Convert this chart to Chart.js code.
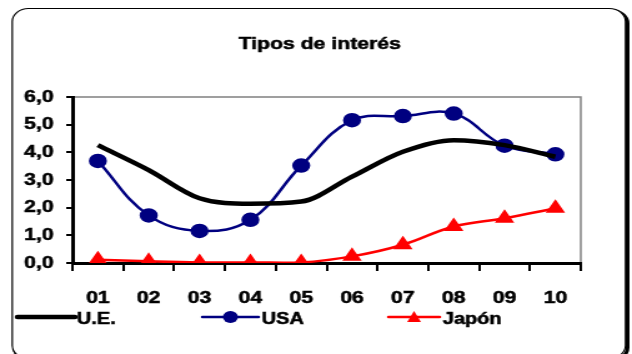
<!DOCTYPE html>
<html><head><meta charset="utf-8">
<script src="https://cdn.jsdelivr.net/npm/chart.js@4"></script>
<style>
html,body{margin:0;padding:0;background:#fff;overflow:hidden;}
#wrap{width:632px;height:354px;position:relative;overflow:hidden;}
#inner{width:506px;height:354px;transform:scale(1.249,1);transform-origin:0 0;}
</style>
</head><body><div id="wrap"><div id="inner"><canvas id="c" width="506" height="354"></canvas></div></div>
<script>
const categories = ["01","02","03","04","05","06","07","08","09","10"];
const ueValues = [4.26, 3.36, 2.34, 2.14, 2.22, 3.12, 4.02, 4.44, 4.26, 3.84];
const usaValues = [3.69, 1.72, 1.16, 1.56, 3.52, 5.16, 5.31, 5.40, 4.24, 3.93];
const japonValues = [0.12, 0.06, 0.02, 0.02, 0.02, 0.24, 0.66, 1.32, 1.62, 1.98];
const yTicks = [0,1,2,3,4,5,6];
const title = "Tipos de interés";
const seriesNames = ["U.E.", "USA", "Japón"];

const FONT = "'Liberation Sans', Arial, sans-serif";

function roundRect(ctx, x, y, w, h, r) {
  ctx.beginPath();
  ctx.moveTo(x + r, y);
  ctx.lineTo(x + w - r, y);
  ctx.arcTo(x + w, y, x + w, y + r, r);
  ctx.lineTo(x + w, y + h - r);
  ctx.arcTo(x + w, y + h, x + w - r, y + h, r);
  ctx.lineTo(x + r, y + h);
  ctx.arcTo(x, y + h, x, y + h - r, r);
  ctx.lineTo(x, y + r);
  ctx.arcTo(x, y, x + r, y, r);
  ctx.closePath();
}

function boldText(ctx, txt, x, y) {
  ctx.fillText(txt, x, y);
  ctx.strokeStyle = '#000';
  ctx.lineWidth = 0.5;
  ctx.strokeText(txt, x, y);
}

const decor = {
  id: 'decor',
  beforeDraw(chart) {
    const ctx = chart.ctx;
    ctx.save();
    ctx.fillStyle = '#fff';
    ctx.fillRect(0,0,chart.width,chart.height);
    ctx.strokeStyle = '#000';
    ctx.lineWidth = 3;
    roundRect(ctx, 11.5, 10.5, 491, 350, 13);
    ctx.stroke();
    ctx.fillStyle = '#fff';
    roundRect(ctx, 9.8, 8.5, 491, 350, 13);
    ctx.fill();
    ctx.lineWidth = 1.2;
    ctx.stroke();
    ctx.fillStyle = '#000';
    ctx.font = 'bold 17px ' + FONT;
    ctx.textAlign = 'center';
    ctx.textBaseline = 'middle';
    boldText(ctx, title, 256, 44);
    const a = chart.chartArea;
    ctx.strokeStyle = '#808080';
    ctx.lineWidth = 1.5;
    ctx.beginPath();
    ctx.moveTo(a.left, a.top);
    ctx.lineTo(a.right, a.top);
    ctx.lineTo(a.right, a.bottom);
    ctx.stroke();
    ctx.restore();
  },
  afterDraw(chart) {
    const ctx = chart.ctx;
    ctx.save();
    const y = 317;
    const items = [
      {x1: 14, x2: 60, tx: 61.5, color: '#000', w: 4.5, marker: null},
      {x1: 162, x2: 207, tx: 209.5, color: '#000080', w: 2.5, marker: 'circle'},
      {x1: 311, x2: 352, tx: 354.5, color: '#ff0000', w: 2.5, marker: 'triangle'}
    ];
    items.forEach((it, i) => {
      ctx.strokeStyle = it.color;
      ctx.lineWidth = it.w;
      ctx.lineCap = 'round';
      ctx.beginPath();
      ctx.moveTo(it.x1, y); ctx.lineTo(it.x2, y); ctx.stroke();
      const cx = (it.x1 + it.x2) / 2;
      ctx.fillStyle = it.color;
      if (it.marker === 'circle') {
        ctx.beginPath(); ctx.arc(cx, y, 6, 0, Math.PI*2); ctx.fill();
      } else if (it.marker === 'triangle') {
        ctx.beginPath(); ctx.moveTo(cx, y-6); ctx.lineTo(cx+5.5, y+5); ctx.lineTo(cx-5.5, y+5); ctx.closePath(); ctx.fill();
      }
      ctx.fillStyle = '#000';
      ctx.font = 'bold 16px ' + FONT;
      ctx.textAlign = 'left';
      ctx.textBaseline = 'middle';
      boldText(ctx, seriesNames[i], it.tx, y + 3);
    });
    ctx.restore();
  }
};

new Chart(document.getElementById('c'), {
  type: 'line',
  data: {
    labels: categories,
    datasets: [
      {label: seriesNames[0], data: ueValues, borderColor: '#000', backgroundColor: '#000', borderWidth: 4.5, pointRadius: 0, tension: 0.4, cubicInterpolationMode: 'monotone'},
      {label: seriesNames[1], data: usaValues, borderColor: '#000080', backgroundColor: '#000080', borderWidth: 2.5, pointRadius: 6, pointStyle: 'circle', tension: 0.4},
      {label: seriesNames[2], data: japonValues, borderColor: '#ff0000', backgroundColor: '#ff0000', borderWidth: 2.5, pointRadius: 6.5, pointStyle: 'triangle', tension: 0.4}
    ]
  },
  options: {
    responsive: false,
    animation: false,
    devicePixelRatio: 1,
    layout: {padding: {top: 97, right: 41, left: 0, bottom: 0}},
    plugins: {legend: {display: false}, title: {display: false}, tooltip: {enabled: false}},
    scales: {
      x: {
        offset: true,
        grid: {display: true, drawOnChartArea: false, drawTicks: true, tickLength: 8, color: '#000', lineWidth: 2, offset: true},
        border: {display: true, color: '#000', width: 3},
        ticks: {color: '#000', font: {family: FONT, size: 17, weight: 'bold'}, padding: 17, maxRotation: 0, autoSkip: false,
          textStrokeColor: '#000', textStrokeWidth: 0.5},
        afterFit(s) { s.height = 91; }
      },
      y: {
        min: 0, max: 6,
        afterBuildTicks(s) { s.ticks = yTicks.map(v => ({value: v})); },
        grid: {display: true, drawOnChartArea: false, drawTicks: true, tickLength: 5, color: '#000', lineWidth: 2},
        border: {display: true, color: '#000', width: 3},
        ticks: {color: '#000', font: {family: FONT, size: 17, weight: 'bold'}, padding: 10,
          textStrokeColor: '#000', textStrokeWidth: 0.5,
          callback: v => v.toFixed(1).replace('.', ',')},
        afterFit(s) { s.width = 58; }
      }
    }
  },
  plugins: [decor]
});
</script></body></html>
